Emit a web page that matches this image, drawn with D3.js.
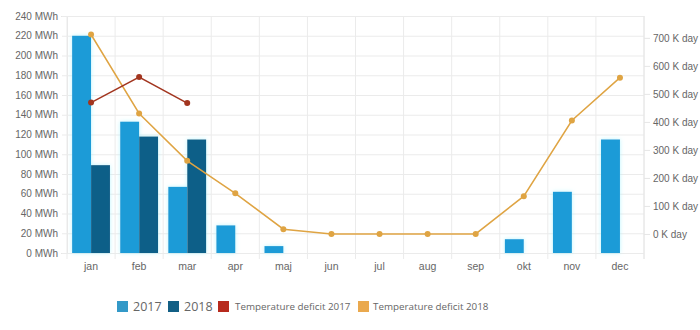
<!DOCTYPE html>
<html>
<head>
<meta charset="utf-8">
<script src="https://cdn.jsdelivr.net/npm/d3@7"></script>
<style>
  html, body { margin: 0; padding: 0; background: #fff; }
  svg { display: block; font-family: "Open Sans", sans-serif; }
</style>
</head>
<body>
<svg id="chart" width="700" height="330"></svg>
<script>
// Monthly energy use (MWh) and temperature deficit (K day)
const months = ["jan", "feb", "mar", "apr", "maj", "jun", "jul", "aug", "sep", "okt", "nov", "dec"];
const energy2017 = [220, 133, 67, 28, 7, null, null, null, null, 14, 62, 115];
const energy2018 = [89, 118, 115, null, null, null, null, null, null, null, null, null];
const deficit2017 = [469, 560, 467, null, null, null, null, null, null, null, null, null];
const deficit2018 = [712, 430, 261, 145, 17, 0, 0, 0, 0, 135, 405, 558];
const leftTicks = [0, 20, 40, 60, 80, 100, 120, 140, 160, 180, 200, 220, 240];
const rightTicks = [0, 100, 200, 300, 400, 500, 600, 700];

const colors = { e2017: "#1a9bd7", e2018: "#0f5f88", d2017: "#a2351f", d2018: "#dfa443" };
const legendColors = { e2017: "#3399c8", e2018: "#125f85", d2017: "#b72a1d", d2018: "#eaa94e" };

const svg = d3.select("#chart");
const m = { left: 67, right: 644, top: 16, bottom: 253 };

const x = d3.scaleBand().domain(months).range([m.left, m.right]);
const xSub = d3.scaleBand().domain(["2017", "2018"]).range([0, x.bandwidth()]).paddingOuter(0.27);
const yL = d3.scaleLinear().domain([0, 240]).range([m.bottom, m.top]);
const yR = d3.scaleLinear().domain([-68, 778]).range([m.bottom, m.top]);

// glow filter for the bars
const defs = svg.append("defs");
const f = defs.append("filter").attr("id", "glow").attr("x", "-30%").attr("y", "-30%").attr("width", "160%").attr("height", "160%");
f.append("feDropShadow").attr("dx", 0).attr("dy", 0).attr("stdDeviation", 2).attr("flood-color", "#9ff3ff").attr("flood-opacity", 0.7);

// horizontal grid with left axis
const gL = svg.append("g").attr("transform", `translate(${m.left},0)`)
  .call(d3.axisLeft(yL).tickValues(leftTicks).tickSize(6).tickPadding(3).tickFormat(d => d + " MWh"));
gL.select(".domain").attr("stroke", "#e6e6e6");
gL.selectAll(".tick line").attr("stroke", "#ebebeb").attr("x2", m.right - m.left).attr("x1", -5);
gL.selectAll(".tick text").attr("fill", "#666").style("font-size", "10px");

// vertical grid lines at month boundaries
svg.append("g").selectAll("line")
  .data(months.concat(["end"]))
  .join("line")
  .attr("x1", (d, i) => m.left + i * x.step())
  .attr("x2", (d, i) => m.left + i * x.step())
  .attr("y1", m.top)
  .attr("y2", m.bottom + 6)
  .attr("stroke", "#ebebeb");

// month labels
const gX = svg.append("g").attr("transform", `translate(0,${m.bottom})`)
  .call(d3.axisBottom(x).tickSize(0).tickPadding(10));
gX.select(".domain").remove();
gX.selectAll(".tick text").attr("fill", "#666").style("font-size", "10.5px");

// right axis
const gR = svg.append("g").attr("transform", `translate(${m.right},0)`)
  .call(d3.axisRight(yR).tickValues(rightTicks).tickSize(6).tickPadding(3).tickFormat(d => d + " K day"));
gR.select(".domain").attr("stroke", "#e6e6e6").attr("d", `M0,${m.top}V${m.bottom + 6}`);
gR.selectAll(".tick line").attr("stroke", "#e6e6e6");
gR.selectAll(".tick text").attr("fill", "#666").style("font-size", "10px");

// bars
const barData = [];
months.forEach((mo, i) => {
  if (energy2017[i] != null) barData.push({ mo, s: "2017", v: energy2017[i], c: colors.e2017 });
  if (energy2018[i] != null) barData.push({ mo, s: "2018", v: energy2018[i], c: colors.e2018 });
});
svg.append("g").attr("filter", "url(#glow)").selectAll("rect")
  .data(barData)
  .join("rect")
  .attr("x", d => x(d.mo) + xSub(d.s))
  .attr("width", xSub.bandwidth())
  .attr("y", d => yL(d.v))
  .attr("height", d => yL(0) - yL(d.v))
  .attr("fill", d => d.c);

// temperature deficit lines
function drawLine(values, color) {
  const pts = values.map((v, i) => ({ mo: months[i], v })).filter(d => d.v != null);
  const cx = d => x(d.mo) + x.bandwidth() / 2;
  svg.append("path")
    .datum(pts)
    .attr("fill", "none")
    .attr("stroke", color)
    .attr("stroke-width", 1.5)
    .attr("d", d3.line().x(cx).y(d => yR(d.v)));
  svg.append("g").selectAll("circle")
    .data(pts)
    .join("circle")
    .attr("cx", cx)
    .attr("cy", d => yR(d.v))
    .attr("r", 3)
    .attr("fill", color);
}
drawLine(deficit2018, colors.d2018);
drawLine(deficit2017, colors.d2017);

// legend
const legendItems = [
  { label: "2017", c: legendColors.e2017, x: 117, size: "12.5px", gap: 16 },
  { label: "2018", c: legendColors.e2018, x: 168, size: "12.5px", gap: 16 },
  { label: "Temperature deficit 2017", c: legendColors.d2017, x: 218, size: "9.8px", gap: 17 },
  { label: "Temperature deficit 2018", c: legendColors.d2018, x: 358, size: "9.8px", gap: 15 }
];
const lg = svg.append("g").selectAll("g").data(legendItems).join("g")
  .attr("transform", d => `translate(${d.x},306)`);
lg.append("rect").attr("x", 0).attr("y", -5).attr("width", 11).attr("height", 11).attr("fill", d => d.c);
lg.append("text").attr("x", d => d.gap).attr("y", 0).attr("dy", "0.36em")
  .attr("fill", "#666").style("font-size", d => d.size).text(d => d.label);
</script>
</body>
</html>
